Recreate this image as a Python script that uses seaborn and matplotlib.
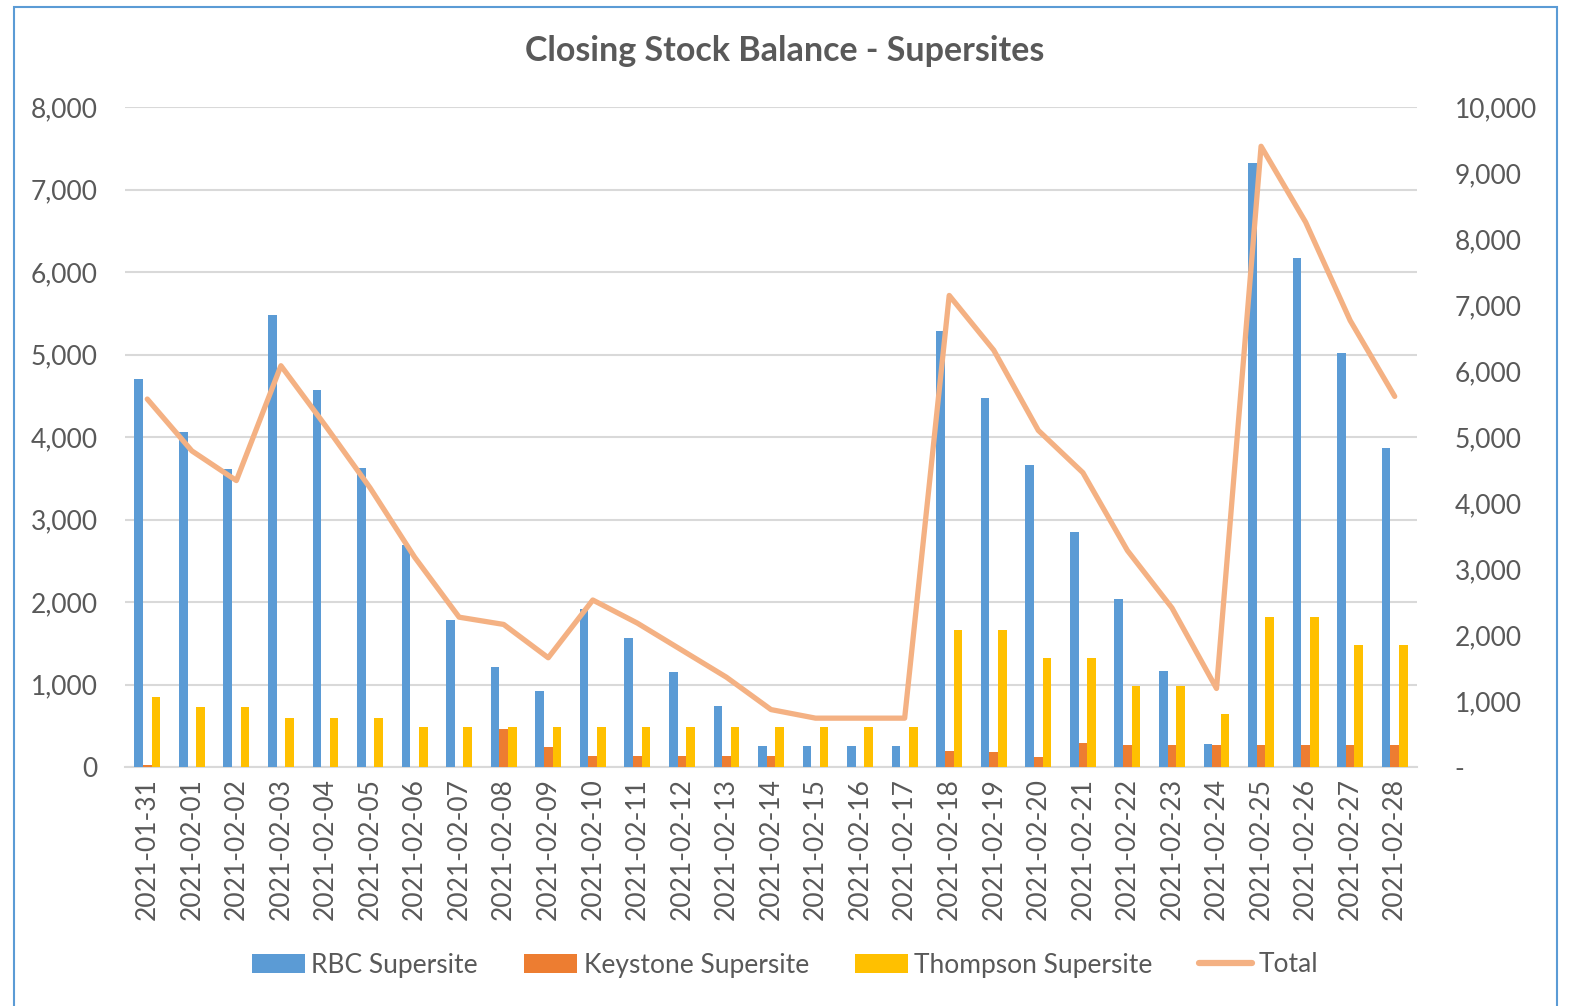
import numpy as np
import pandas as pd
import matplotlib
matplotlib.use("Agg")
import matplotlib.pyplot as plt
import matplotlib.ticker as mticker
from matplotlib.patches import Patch, Rectangle
from matplotlib.lines import Line2D
import seaborn as sns

# ---------------------------------------------------------
# DATA
# ---------------------------------------------------------
dates = ["2021-01-31"] + [f"2021-02-{d:02d}" for d in range(1, 29)]

rbc = [4700, 4060, 3610, 5480, 4570, 3630, 2690, 1780, 1210, 920,
       1910, 1560, 1150, 740, 250, 250, 250, 250, 5285, 4475,
       3660, 2850, 2035, 1165, 280, 7320, 6170, 5020, 3870]
keystone = [25, 0, 0, 0, 0, 0, 0, 0, 460, 245,
            130, 130, 130, 130, 130, 0, 0, 0, 200, 180,
            120, 290, 265, 265, 265, 265, 265, 265, 265]
thompson = [850, 730, 730, 600, 600, 600, 490, 490, 490, 490,
            490, 490, 490, 490, 490, 490, 490, 490, 1660, 1660,
            1320, 1320, 980, 980, 645, 1820, 1820, 1480, 1480]
total = [5575, 4790, 4340, 6080, 5170, 4230, 3180, 2270, 2160, 1655,
         2530, 2180, 1770, 1360, 870, 740, 740, 740, 7145, 6315,
         5100, 4460, 3280, 2410, 1190, 9405, 8255, 6765, 5615]

series_names = ["RBC Supersite", "Keystone Supersite", "Thompson Supersite"]
bar_colors = ["#5B9BD5", "#ED7D31", "#FFC000"]
line_color = "#F4B183"
text_color = "#595959"
grid_color = "#D9D9D9"


def main():
    df = pd.DataFrame({"Date": dates, series_names[0]: rbc,
                       series_names[1]: keystone, series_names[2]: thompson})
    long_df = df.melt(id_vars="Date", var_name="Site", value_name="Stock")

    sns.set_theme(style="white")
    plt.rcParams["font.family"] = ["Lato", "DejaVu Sans"]

    W, H = 1570, 1006
    fig = plt.figure(figsize=(W / 100, H / 100), dpi=100)
    ax = fig.add_axes([125 / W, 1 - 767 / H, (1417 - 125) / W, (767 - 107) / H])

    sns.barplot(data=long_df, x="Date", y="Stock", hue="Site", order=dates,
                hue_order=series_names, palette=bar_colors, width=0.58,
                gap=0, saturation=1, ax=ax, legend=False, linewidth=0, zorder=3)

    ax.set_ylim(0, 8000)
    ax.set_xlim(-0.5, len(dates) - 0.5)
    ax.set_yticks(np.arange(0, 8001, 1000))
    ax.yaxis.set_major_formatter(mticker.FuncFormatter(lambda v, p: f"{int(v):,}"))
    ax.grid(axis="y", color=grid_color, linewidth=1.5, zorder=0)
    ax.set_axisbelow(True)
    ax.set_xlabel("")
    ax.set_ylabel("")
    for s in ["top", "left", "right"]:
        ax.spines[s].set_visible(False)
    ax.spines["bottom"].set_color(grid_color)
    ax.spines["bottom"].set_linewidth(1.5)
    ax.tick_params(axis="y", length=0, pad=19.5, labelsize=19, labelcolor=text_color)
    ax.tick_params(axis="x", which="major", length=0, pad=8, labelsize=19,
                   labelcolor=text_color, labelrotation=90)
    ax.set_xticks(np.arange(-0.5, len(dates), 1), minor=True)
    ax.tick_params(axis="x", which="minor", length=7, width=1.5, color=grid_color)

    # Total on secondary axis
    ax2 = ax.twinx()
    sns.lineplot(x=np.arange(len(dates)), y=total, ax=ax2, color=line_color,
                 linewidth=3.8, zorder=5, legend=False)
    ax2.set_ylim(0, 10000)
    ax2.set_yticks(np.arange(0, 10001, 1000))
    ax2.yaxis.set_major_formatter(
        mticker.FuncFormatter(lambda v, p: "-" if v == 0 else f"{int(v):,}"))
    ax2.tick_params(axis="y", length=0, pad=27, labelsize=19, labelcolor=text_color)
    for s in ["top", "left", "right", "bottom"]:
        ax2.spines[s].set_visible(False)
    ax2.grid(False)
    ax2.set_xlim(-0.5, len(dates) - 0.5)

    fig.text(0.5, 1 - 51 / H, "Closing Stock Balance - Supersites", ha="center",
             va="center", fontsize=24.5, fontweight="bold", color=text_color)

    handles = [Patch(facecolor=c, edgecolor="none") for c in bar_colors]
    handles.append(Line2D([0], [0], color=line_color, linewidth=4.5))
    labels = series_names + ["Total"]
    fig.legend(handles, labels, loc="center", bbox_to_anchor=(0.5, 1 - 965 / H),
               ncol=4, frameon=False, fontsize=19, labelcolor=text_color,
               handlelength=2.0, handleheight=0.7, handletextpad=0.25,
               columnspacing=1.75)

    # chart border
    fig.patches.append(Rectangle((14 / W, -0.05), (1557 - 14) / W, 1.05 - 7 / H,
                                 transform=fig.transFigure, fill=False,
                                 edgecolor="#5B9BD5", linewidth=1.5))

    fig.savefig("out.png", dpi=100)
    plt.close(fig)


if __name__ == "__main__":
    main()
